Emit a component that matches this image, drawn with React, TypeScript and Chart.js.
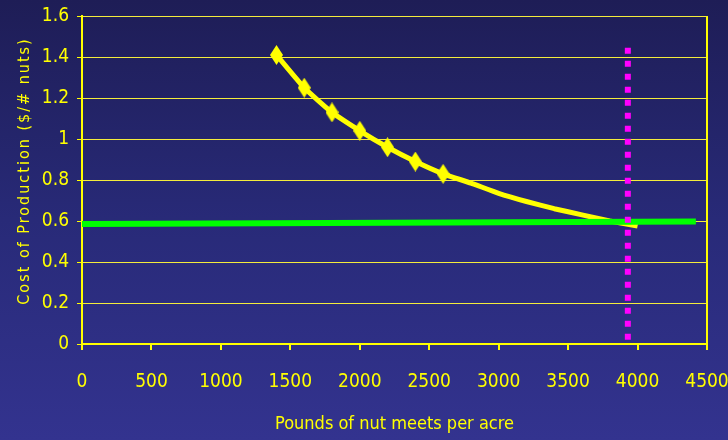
import React, { useEffect, useRef } from "react";
import { Chart, registerables } from "chart.js";

Chart.register(...registerables);

// ---- data ----
const yieldLbs = [1400, 1600, 1800, 2000, 2200, 2400, 2600, 2800, 3000, 3200, 3400, 3600, 3800, 4000];
const costPerNut = [1.41, 1.25, 1.13, 1.04, 0.96, 0.89, 0.83, 0.785, 0.735, 0.695, 0.66, 0.63, 0.6, 0.575];
const markedPoints = 7;
const priceX = [0, 4420];
const priceY = [0.585, 0.597];
const targetX = [3930, 3930];
const targetY = [1.445, 0];
const xTicks = [0, 500, 1000, 1500, 2000, 2500, 3000, 3500, 4000, 4500];
const xTickLabels = ["0", "500", "1000", "1500", "2000", "2500", "3000", "3500", "4000", "4500"];
const yTicks = [0, 0.2, 0.4, 0.6, 0.8, 1, 1.2, 1.4, 1.6];
const yTickLabels = ["0", "0.2", "0.4", "0.6", "0.8", "1", "1.2", "1.4", "1.6"];
const xTitle = "Pounds of nut meets per acre";
const yTitle = "Cost of Production ($/# nuts)";

const FONT = "'DejaVu Sans Condensed', 'Liberation Sans Narrow', sans-serif";
const YEL = "#ffff00";
const GRID = "#f4ec3c";

export default function App() {
  const ref = useRef<HTMLCanvasElement>(null);

  useEffect(() => {
    const canvas = ref.current!;
    const diamond = document.createElement("canvas");
    diamond.width = 13;
    diamond.height = 20;
    const dctx = diamond.getContext("2d")!;
    dctx.fillStyle = YEL;
    dctx.beginPath();
    dctx.moveTo(6.5, 0);
    dctx.lineTo(13, 10);
    dctx.lineTo(6.5, 20);
    dctx.lineTo(0, 10);
    dctx.closePath();
    dctx.fill();

    const titles = {
      id: "titles",
      afterDraw(chart: any) {
        const ctx = chart.ctx;
        const area = chart.chartArea;
        ctx.save();
        ctx.fillStyle = YEL;
        ctx.font = `18px ${FONT}`;
        ctx.textAlign = "center";
        ctx.textBaseline = "alphabetic";
        ctx.fillText(xTitle, (area.left + area.right) / 2, 429);
        ctx.translate(29, 171);
        ctx.rotate(-Math.PI / 2);
        (ctx as any).letterSpacing = "2px";
        ctx.font = `16px ${FONT}`;
        ctx.fillText(yTitle, 0, 0);
        ctx.restore();
      },
    };

    const chart = new Chart(canvas, {
      type: "line",
      data: {
        datasets: [
          {
            data: targetX.map((x, i) => ({ x, y: targetY[i] })),
            borderColor: "#ff00ff",
            borderWidth: 6,
            borderDash: [6, 7],
            borderCapStyle: "butt",
            pointRadius: 0,
            order: 0,
          },
          {
            data: priceX.map((x, i) => ({ x, y: priceY[i] })),
            borderColor: "#00ff00",
            borderWidth: 6,
            pointRadius: 0,
            order: 1,
          },
          {
            data: yieldLbs.map((x, i) => ({ x, y: costPerNut[i] })),
            borderColor: YEL,
            borderWidth: 5,
            borderJoinStyle: "round",
            pointStyle: diamond as any,
            pointRadius: (c: any) => (c.dataIndex < markedPoints ? 8 : 0),
            pointHoverRadius: 0,
            tension: 0.15,
            order: 2,
          },
        ],
      },
      options: {
        animation: false,
        responsive: false,
        events: [],
        layout: { padding: { top: 16, right: 21, left: 0, bottom: 0 } },
        plugins: { legend: { display: false }, tooltip: { enabled: false } },
        scales: {
          x: {
            type: "linear",
            min: 0,
            max: 4500,
            afterFit: (s: any) => {
              s.height = 96;
              s.paddingLeft = 0;
              s.paddingRight = 0;
            },
            afterBuildTicks: (s: any) => {
              s.ticks = xTicks.map((v) => ({ value: v }));
            },
            ticks: {
              color: YEL,
              font: { family: FONT, size: 19 },
              padding: 21,
              maxRotation: 0,
              callback: (_v: any, i: number) => xTickLabels[i],
            },
            grid: {
              color: (c: any) => (c.tick && c.tick.value === 4500 ? YEL : "rgba(0,0,0,0)"),
              lineWidth: 2,
              tickColor: YEL,
              tickLength: 6,
              tickWidth: 2,
            },
            border: { color: YEL, width: 2 },
          },
          y: {
            type: "linear",
            min: 0,
            max: 1.6,
            afterFit: (s: any) => {
              s.width = 82;
              s.paddingTop = 0;
              s.paddingBottom = 0;
            },
            afterBuildTicks: (s: any) => {
              s.ticks = yTicks.map((v) => ({ value: v }));
            },
            ticks: {
              color: YEL,
              font: { family: FONT, size: 19 },
              padding: 8,
              callback: (_v: any, i: number) => yTickLabels[i],
            },
            grid: { color: GRID, lineWidth: 1, tickColor: YEL, tickLength: 5, tickWidth: 1 },
            border: { color: YEL, width: 2 },
          },
        },
      },
      plugins: [titles],
    } as any);
    return () => chart.destroy();
  }, []);

  return (
    <div
      style={{
        position: "fixed",
        left: 0,
        top: 0,
        width: 728,
        height: 440,
        background: "linear-gradient(to bottom, #1e1d56 0%, #282a78 50%, #33338f 100%)",
      }}
    >
      <canvas ref={ref} width={728} height={440} style={{ display: "block" }} />
    </div>
  );
}
